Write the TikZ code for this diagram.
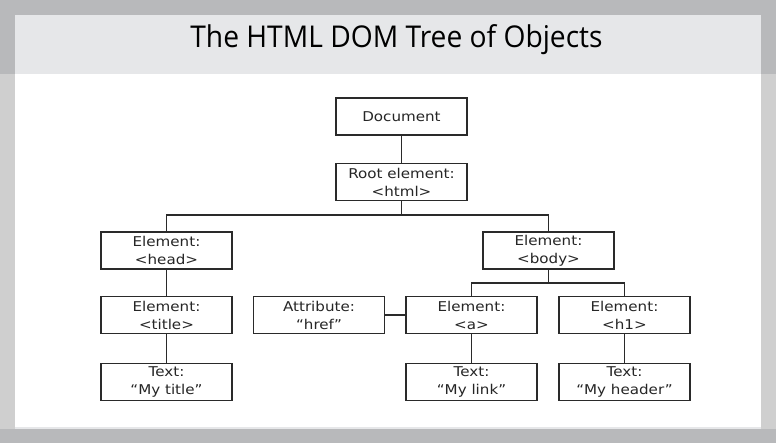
\documentclass[tikz,border=0pt]{standalone}
\usepackage{fontspec}
\newfontfamily\nodefont[FakeStretch=1.12]{DejaVu Sans}
\newfontfamily\titlefont[FakeStretch=0.94]{Open Sans}
\definecolor{outerdark}{HTML}{B8B9BB}
\definecolor{outerlight}{HTML}{CFCFCF}
\definecolor{headbg}{HTML}{E6E7E9}
\definecolor{boxline}{HTML}{2A2A2A}
\tikzset{
  dombox/.style={draw=boxline, line width=1.1pt, minimum width=131pt, minimum height=37pt,
    inner sep=0pt, align=center, font=\nodefont\fontsize{13.5}{18}\selectfont, text=black!85},
  link/.style={draw=boxline, line width=1.2pt}
}
\begin{document}
\begin{tikzpicture}[x=1pt,y=-1pt]
\useasboundingbox (0,0) rectangle (776,443);
\fill[outerlight] (0,0) rectangle (776,443);
\fill[outerdark] (0,0) rectangle (776,74);
\fill[outerdark] (0,429) rectangle (776,443);
\fill[headbg] (15,15) rectangle (761,74);
\fill[white] (15,74) rectangle (761,427);
\fill[headbg] (15,427) rectangle (761,429);
\node[font=\titlefont\fontsize{30}{32}\selectfont, text=black] (title) at (396.5,40) {The HTML DOM Tree of Objects};

\node[dombox, text height=10pt] (doc) at (401.5,116.5) {Document};
\node[dombox] (root) at (401.5,182) {Root element:\\<html>};
\node[dombox] (head) at (166.5,250.5) {Element:\\<head>};
\node[dombox] (body) at (548.5,250.5) {Element:\\<body>};
\node[dombox] (ttl) at (166.5,315) {Element:\\<title>};
\node[dombox] (attr) at (319,315) {Attribute:\\“href”};
\node[dombox] (a) at (471.5,315) {Element:\\<a>};
\node[dombox] (h1) at (624.5,315) {Element:\\<h1>};
\node[dombox] (ttext) at (166.5,382) {Text:\\“My title”};
\node[dombox] (atext) at (471.5,382) {Text:\\“My link”};
\node[dombox] (htext) at (624.5,382) {Text:\\“My header”};

\coordinate (j1) at (401.5,215);
\coordinate (j2) at (548.5,283);
\draw[link] (doc) -- (root);
\draw[link] (root) -- (j1);
\draw[link] (head.north) |- (j1) -| (body.north);
\draw[link] (body) -- (j2);
\draw[link] (a.north) |- (j2) -| (h1.north);
\draw[link] (head) -- (ttl);
\draw[link] (ttl) -- (ttext);
\draw[link] (attr) -- (a);
\draw[link] (a) -- (atext);
\draw[link] (h1) -- (htext);
\end{tikzpicture}
\end{document}
